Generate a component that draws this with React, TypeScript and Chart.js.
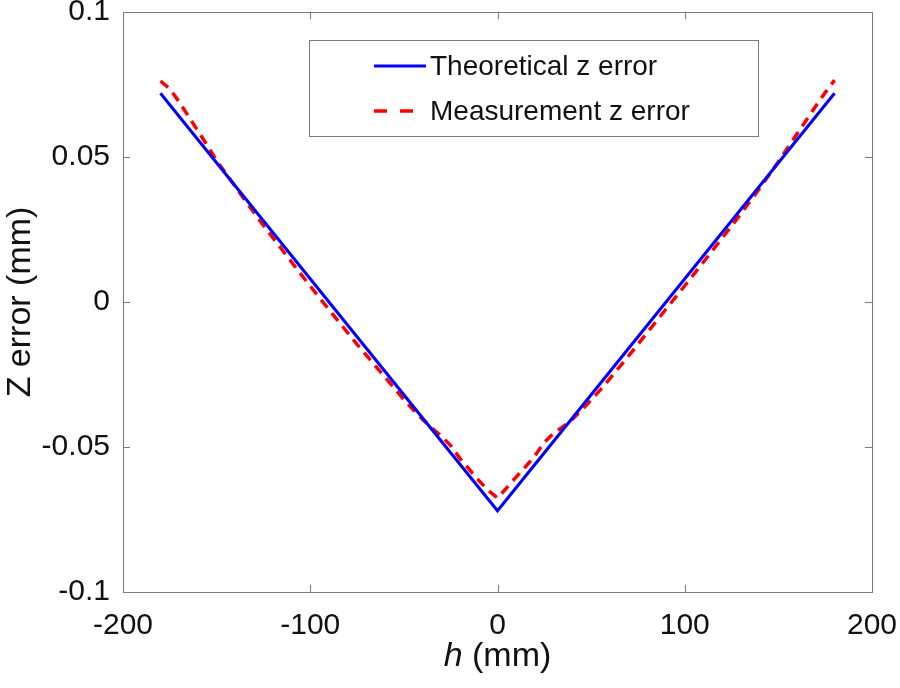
import React, { useEffect, useRef } from "react";
import { Chart, registerables } from "chart.js";

Chart.register(...registerables);

// Theoretical z error (V shape)
const theoX = [-180, 0, 180];
const theoY = [0.072, -0.072, 0.072];

// Measurement z error
const measX = [
  -180, -175, -170, -165, -160, -155, -150, -145, -140, -135, -130, -125, -120, -115, -110, -105,
  -100, -95, -90, -85, -80, -75, -70, -65, -60, -55, -50, -45, -40, -35, -30, -25, -20, -15, -10, -5,
  0, 5, 10, 15, 20, 25, 30, 35, 40, 45, 50, 55, 60, 65, 70, 75, 80, 85, 90, 95, 100, 105, 110, 115,
  120, 125, 130, 135, 140, 145, 150, 155, 160, 165, 170, 175, 180,
];
const measY = [
  0.0762, 0.0735, 0.069, 0.064, 0.059, 0.054, 0.0488, 0.0442, 0.0398, 0.0352, 0.0308, 0.0264, 0.0222,
  0.018, 0.0138, 0.0096, 0.0055, 0.0014, -0.0026, -0.0066, -0.0106, -0.0146, -0.0184, -0.0222, -0.026,
  -0.0298, -0.0336, -0.0372, -0.0405, -0.0435, -0.0462, -0.0495, -0.054, -0.0578, -0.0615, -0.065,
  -0.0676, -0.064, -0.0603, -0.0568, -0.053, -0.0484, -0.0452, -0.043, -0.0404, -0.0372, -0.0338,
  -0.0302, -0.0264, -0.0225, -0.0186, -0.0146, -0.0105, -0.0065, -0.0024, 0.0016, 0.0056, 0.0097,
  0.0138, 0.0179, 0.0221, 0.0262, 0.0305, 0.0348, 0.0392, 0.0438, 0.0484, 0.0532, 0.058, 0.0628,
  0.0676, 0.0722, 0.0765,
];

const yTickLabels = ["-0.1", "-0.05", "0", "0.05", "0.1"];
const xTickLabels = ["-200", "-100", "0", "100", "200"];

const seriesLabels = ["Theoretical z error", "Measurement z error"];
const xTitleItalic = "h";
const xTitleRest = " (mm)";
const yTitle = "Z error (mm)";

const FONT = "'Liberation Sans', Arial, Helvetica, sans-serif";
const FRAME = "#7a7a7a";
const TEXT = "#111111";

const framePlugin = {
  id: "matlabFrame",
  afterDatasetsDraw(chart: any) {
    const { ctx, chartArea } = chart;
    const { left, right, top, bottom } = chartArea;
    const xs = chart.scales.x;
    const ys = chart.scales.y;
    ctx.save();
    ctx.strokeStyle = FRAME;
    ctx.lineWidth = 1;
    ctx.strokeRect(Math.round(left) + 0.5, Math.round(top) + 0.5, Math.round(right - left), Math.round(bottom - top));
    const tl = 7;
    ctx.beginPath();
    xs.ticks.forEach((t: any) => {
      const px = Math.round(xs.getPixelForValue(t.value)) + 0.5;
      ctx.moveTo(px, bottom);
      ctx.lineTo(px, bottom - tl);
      ctx.moveTo(px, top);
      ctx.lineTo(px, top + tl);
    });
    ys.ticks.forEach((t: any) => {
      const py = Math.round(ys.getPixelForValue(t.value)) + 0.5;
      ctx.moveTo(left, py);
      ctx.lineTo(left + tl, py);
      ctx.moveTo(right, py);
      ctx.lineTo(right - tl, py);
    });
    ctx.stroke();

    // legend
    const bx = 309.5, by = 40.5, bw = 449, bh = 96;
    ctx.fillStyle = "#ffffff";
    ctx.fillRect(bx, by, bw, bh);
    ctx.strokeStyle = FRAME;
    ctx.strokeRect(bx, by, bw, bh);
    const rows = [66, 111];
    chart.data.datasets.forEach((ds: any, i: number) => {
      const y = rows[i];
      ctx.save();
      ctx.strokeStyle = ds.borderColor;
      ctx.lineWidth = ds.borderWidth;
      ctx.setLineDash(i === 1 ? [13, 13] : []);
      ctx.beginPath();
      ctx.moveTo(374, y);
      ctx.lineTo(426, y);
      ctx.stroke();
      ctx.restore();
      ctx.fillStyle = TEXT;
      ctx.font = `28px ${FONT}`;
      ctx.textBaseline = "middle";
      ctx.textAlign = "left";
      ctx.fillText(ds.label, 430, y + 1);
    });

    // x title with italic h
    ctx.textBaseline = "alphabetic";
    ctx.font = `italic 34px ${FONT}`;
    const w1 = ctx.measureText(xTitleItalic).width;
    ctx.font = `34px ${FONT}`;
    const w2 = ctx.measureText(xTitleRest).width;
    const cx = (left + right) / 2;
    const sx = cx - (w1 + w2) / 2;
    ctx.fillStyle = TEXT;
    ctx.font = `italic 34px ${FONT}`;
    ctx.fillText(xTitleItalic, sx, 666);
    ctx.font = `34px ${FONT}`;
    ctx.fillText(xTitleRest, sx + w1, 666);
    ctx.restore();
  },
};

export default function App() {
  const ref = useRef<HTMLCanvasElement | null>(null);
  useEffect(() => {
    document.body.style.margin = "0";
    const canvas = ref.current;
    if (!canvas) return;
    const chart = new Chart(canvas, {
      type: "line",
      data: {
        datasets: [
          {
            label: seriesLabels[0],
            data: theoX.map((x, i) => ({ x, y: theoY[i] })),
            borderColor: "#0000ff",
            backgroundColor: "#0000ff",
            borderWidth: 3,
            pointRadius: 0,
            tension: 0,
          },
          {
            label: seriesLabels[1],
            data: measX.map((x, i) => ({ x, y: measY[i] })),
            borderColor: "#ff0000",
            backgroundColor: "#ff0000",
            borderWidth: 3.5,
            borderDash: [10, 7],
            pointRadius: 0,
            tension: 0,
          },
        ],
      },
      options: {
        animation: false,
        responsive: false,
        maintainAspectRatio: false,
        layout: { padding: { left: 0, right: 28, top: 12, bottom: 0 } },
        plugins: { legend: { display: false }, tooltip: { enabled: false } },
        scales: {
          x: {
            type: "linear",
            min: -200,
            max: 200,
            grid: { display: false, drawTicks: false },
            border: { display: false },
            ticks: {
              stepSize: 100,
              padding: 16,
              color: TEXT,
              font: { size: 30, family: FONT },
              maxRotation: 0,
              callback: (_v: any, i: number) => xTickLabels[i],
            },
            afterFit(scale: any) {
              scale.height = 96;
              scale.paddingLeft = 0;
              scale.paddingRight = 0;
            },
          },
          y: {
            type: "linear",
            min: -0.1,
            max: 0.1,
            grid: { display: false, drawTicks: false },
            border: { display: false },
            ticks: {
              stepSize: 0.05,
              padding: 13,
              color: TEXT,
              font: { size: 30, family: FONT },
              callback: (_v: any, i: number) => yTickLabels[i],
            },
            title: {
              display: true,
              text: yTitle,
              color: TEXT,
              font: { size: 34, family: FONT },
              padding: { top: 0, bottom: 0 },
            },
            afterFit(scale: any) {
              scale.width = 123;
              scale.paddingTop = 0;
              scale.paddingBottom = 0;
            },
          },
        },
      },
      plugins: [framePlugin],
    });
    return () => chart.destroy();
  }, []);
  return (
    <div style={{ width: 900, height: 688, background: "#fff" }}>
      <canvas ref={ref} width={900} height={688} style={{ display: "block", width: 900, height: 688 }} />
    </div>
  );
}
